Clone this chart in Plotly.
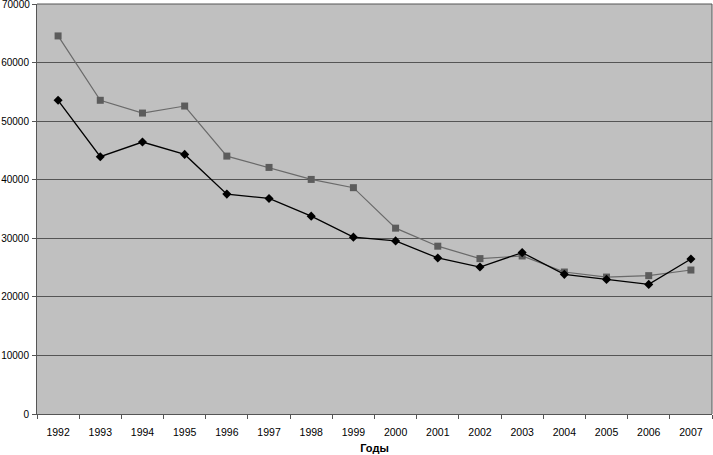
import plotly.graph_objects as go

years = [str(y) for y in range(1992, 2008)]
series_squares = [64550, 53560, 51380, 52580, 44030, 42100, 40050, 38640, 31730,
                  28650, 26530, 26980, 24240, 23380, 23620, 24580]
series_diamonds = [53560, 43930, 46430, 44320, 37540, 36800, 33780, 30190, 29550,
                   26640, 25090, 27560, 23840, 22980, 22130, 26470]
y_ticks = list(range(0, 70001, 10000))
y_tick_labels = [str(v) for v in y_ticks]

FONT = "Liberation Sans, Arial, sans-serif"

fig = go.Figure()
fig.add_trace(go.Scatter(
    x=years, y=series_squares, mode="lines+markers",
    line=dict(color="#6a6a6a", width=1.2),
    marker=dict(symbol="square", size=7, color="#5c5c5c"),
    showlegend=False, cliponaxis=False))
fig.add_trace(go.Scatter(
    x=years, y=series_diamonds, mode="lines+markers",
    line=dict(color="#000000", width=1.3),
    marker=dict(symbol="diamond", size=7, color="#000000"),
    showlegend=False, cliponaxis=False))

fig.update_layout(
    width=713, height=455,
    margin=dict(l=37, r=1, t=4, b=41, autoexpand=False),
    paper_bgcolor="white", plot_bgcolor="#C0C0C0",
    font=dict(family=FONT, size=10, color="black"),
    xaxis=dict(type="category", tickson="boundaries", ticks="outside", ticklen=4,
               range=[-0.5, len(years) - 0.5],
               tickcolor="#555", showline=True, linecolor="#555", linewidth=1,
               showgrid=False, tickfont=dict(size=10.5), automargin=False,
               ticklabelstandoff=8,
               title=dict(text="<b>Годы</b>", font=dict(size=11), standoff=7),
               mirror=False),
    yaxis=dict(range=[0, 70000], tickvals=y_ticks,
               ticktext=y_tick_labels[:-1] + [""],
               ticks="outside", ticklen=4, automargin=False,
               tickcolor="#555", showline=True, linecolor="#555", linewidth=1,
               showgrid=True, gridcolor="#555", gridwidth=1, zeroline=False,
               tickfont=dict(size=10), ticklabelstandoff=1),
)
# top tick label drawn as an annotation so it is not dropped at the range edge
fig.add_annotation(x=0, xref="paper", y=y_ticks[-1], yref="y",
                   text=y_tick_labels[-1], showarrow=False,
                   xanchor="right", yanchor="middle", xshift=-5,
                   font=dict(size=10, family=FONT, color="black"))
fig.add_shape(type="line", xref="paper", yref="paper", x0=1, x1=1, y0=0, y1=1,
              line=dict(color="#555", width=1))
fig.add_shape(type="line", xref="paper", yref="paper", x0=0, x1=1, y0=1, y1=1,
              line=dict(color="#555", width=1))
fig.write_html("out.html", config={"displayModeBar": False},
               post_script="document.body.style.margin='0';document.body.style.overflow='hidden';")
